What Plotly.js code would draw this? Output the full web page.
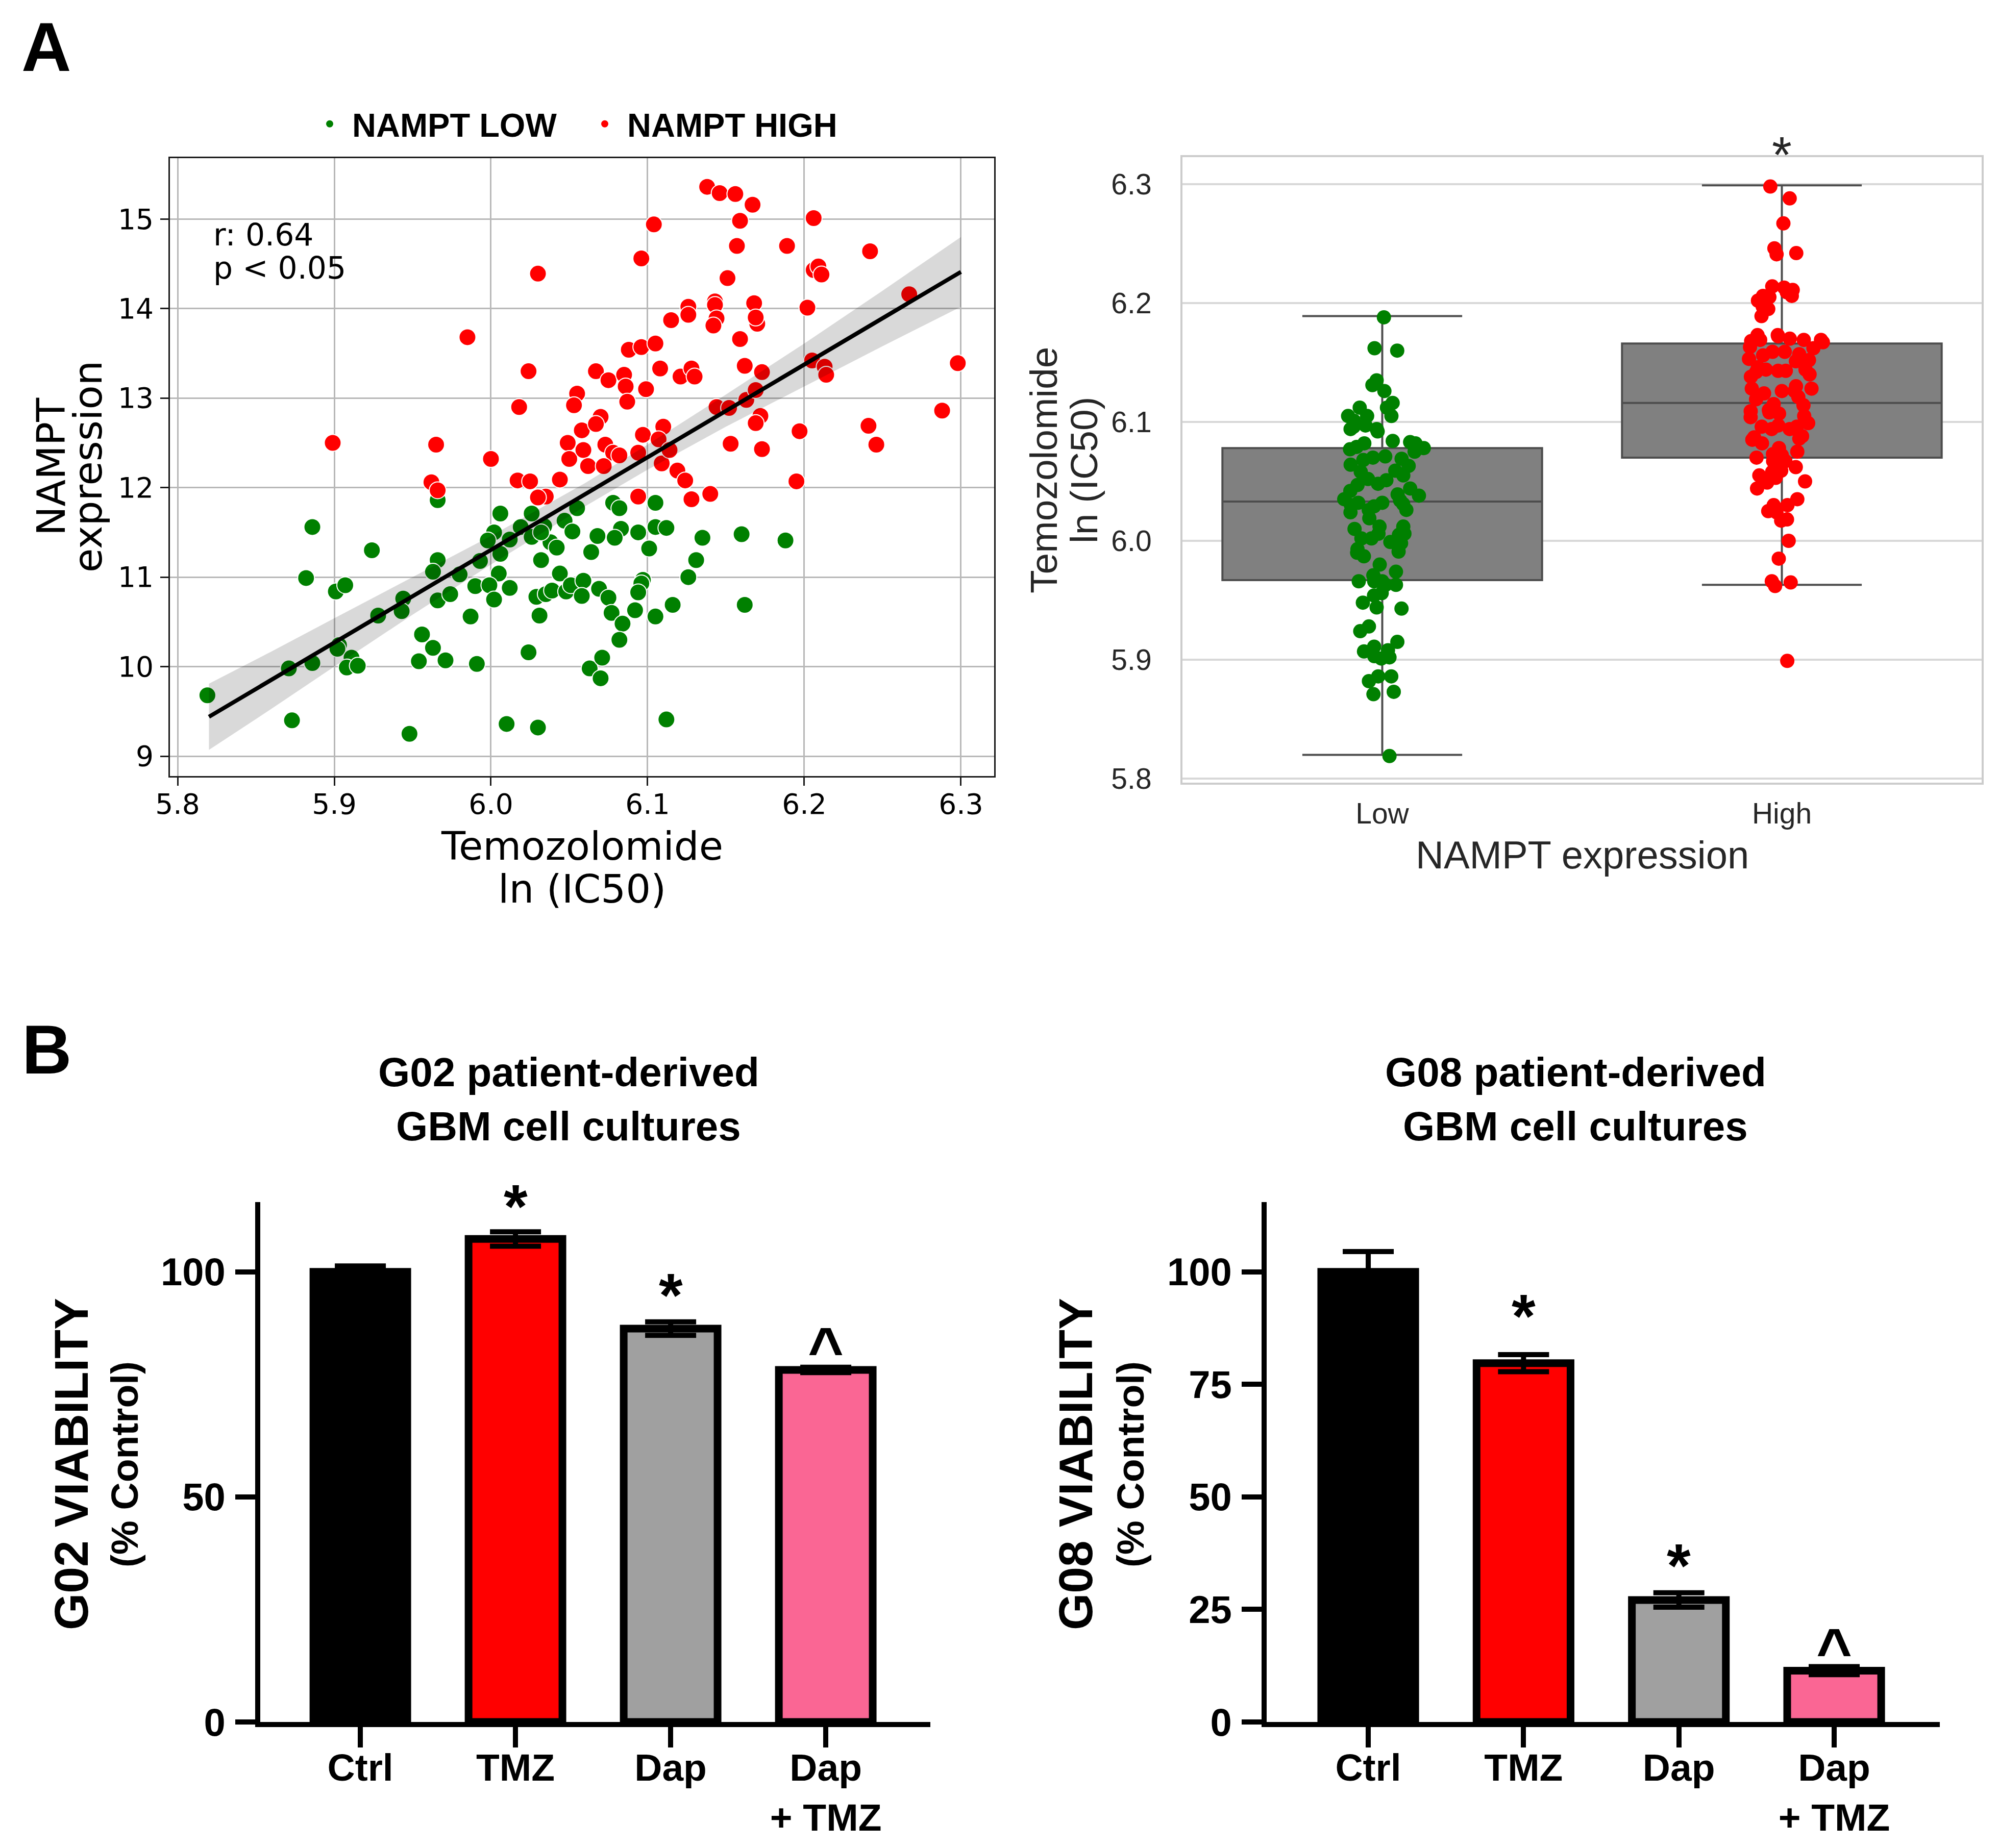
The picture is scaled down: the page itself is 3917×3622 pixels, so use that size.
<!DOCTYPE html>
<html><head><meta charset="utf-8">
<script src="https://cdn.plot.ly/plotly-3.0.1.min.js"></script>
<style>html,body{margin:0;padding:0;background:#fff;}#chart{width:3917px;height:3622px;}</style>
</head><body><div id="chart"></div>
<script>
// ---------- Panel A (scatter): NAMPT LOW (green) ----------
const lowX = [5.966,5.886,5.924,6.006,6.026,6.055,6.047,6.034,6.052,6.019,6.002,5.998,6.012,6.026,6.038,6.006,6.042,
  5.819,5.873,5.871,5.886,5.882,5.901,5.907,5.903,5.902,5.911,5.908,5.915,5.928,5.944,5.943,5.948,5.956,5.963,5.954,
  5.971,5.991,5.987,5.966,5.963,5.966,5.974,5.980,5.993,5.990,6.005,5.999,6.002,6.012,6.010,6.030,6.024,6.031,6.032,
  6.029,6.035,6.039,6.044,6.048,6.051,6.059,6.058,6.032,6.064,6.063,6.105,6.078,6.082,6.083,6.079,6.068,6.094,6.105,
  6.112,6.135,6.160,6.188,6.101,6.131,6.126,6.069,6.075,6.097,6.096,6.094,6.077,6.092,6.116,6.105,6.162,6.084,6.082,
  6.071,6.070,6.112];
const lowY = [11.86,11.56,11.30,11.71,11.71,11.77,11.63,11.57,11.51,11.56,11.50,11.41,11.42,11.45,11.39,11.26,11.33,
  9.68,9.40,9.98,10.04,10.99,10.84,10.91,10.24,10.20,10.10,9.99,10.01,10.57,10.76,10.62,9.25,10.36,10.21,10.06,
  10.07,10.03,10.56,11.19,11.06,10.74,10.81,11.03,11.18,10.90,11.04,10.91,10.75,10.88,9.36,9.32,10.16,10.57,11.19,
  10.78,10.81,10.85,11.04,10.84,10.91,10.96,10.79,11.50,11.28,9.98,11.83,11.83,11.77,11.54,11.44,11.46,11.50,11.56,
  11.55,11.44,11.48,11.41,11.32,11.19,11.00,10.87,10.77,10.97,10.93,10.83,10.60,10.63,10.69,10.56,10.69,10.48,10.30,
  10.10,9.87,9.41];
// ---------- Panel A (scatter): NAMPT HIGH (red) ----------
const highX = [6.030,5.985,6.024,6.055,6.053,6.018,5.899,5.965,6.049,6.050,6.000,5.962,5.966,6.017,6.025,6.044,6.035,6.030,
  6.058,6.059,6.062,6.138,6.146,6.156,6.167,6.206,6.104,6.159,6.157,6.189,6.242,6.096,6.206,6.209,6.211,6.151,6.267,
  6.126,6.126,6.143,6.143,6.168,6.202,6.115,6.144,6.142,6.170,6.169,6.159,6.088,6.096,6.105,6.067,6.075,6.085,6.086,
  6.099,6.087,6.108,6.121,6.128,6.130,6.162,6.173,6.205,6.213,6.214,6.298,6.070,6.067,6.097,6.110,6.107,6.073,6.078,
  6.082,6.094,6.072,6.109,6.114,6.119,6.124,6.128,6.140,6.094,6.144,6.152,6.163,6.169,6.172,6.169,6.153,6.173,6.197,
  6.195,6.241,6.246,6.288];
const highY = [14.39,13.68,13.30,13.05,12.92,12.90,12.50,12.48,12.50,12.32,12.32,12.06,11.97,12.08,12.07,12.09,11.90,11.89,
  12.64,12.42,12.24,15.36,15.29,15.28,15.16,15.01,14.94,14.98,14.70,14.70,14.64,14.56,14.43,14.47,14.38,14.34,14.16,
  14.02,13.93,14.08,14.04,14.06,14.01,13.87,13.89,13.81,13.83,13.90,13.66,13.54,13.57,13.61,13.30,13.20,13.26,13.13,
  13.10,12.96,13.33,13.24,13.33,13.24,13.36,13.29,13.42,13.35,13.26,13.39,12.79,12.71,12.59,12.68,12.54,12.48,12.39,
  12.36,12.39,12.24,12.27,12.42,12.19,12.08,11.87,11.93,11.90,12.90,12.89,12.98,13.09,12.80,12.72,12.49,12.43,12.63,
  12.07,12.69,12.48,12.86];
// regression line and its confidence band
const fitX = [5.82, 6.30];
const fitY = [9.44, 14.41];
const bandX = [5.82, 5.86, 5.90, 5.95, 6.00, 6.06, 6.10, 6.15, 6.20, 6.25, 6.30];
const bandUpper = [9.81, 10.17, 10.54, 11.00, 11.46, 12.05, 12.48, 13.04, 13.61, 14.20, 14.80];
const bandLower = [9.07, 9.53, 10.00, 10.58, 11.14, 11.79, 12.20, 12.68, 13.13, 13.58, 14.02];
const scatterXTicks = [5.8, 5.9, 6.0, 6.1, 6.2, 6.3];
const scatterXTickText = ['5.8', '5.9', '6.0', '6.1', '6.2', '6.3'];
const scatterYTicks = [9, 10, 11, 12, 13, 14, 15];

// ---------- Panel A (box plot) ----------
const groups = ['Low', 'High'];
const boxQ1 = [5.967, 6.070];
const boxMedian = [6.033, 6.116];
const boxQ3 = [6.078, 6.166];
const boxLowerFence = [5.820, 5.963];
const boxUpperFence = [6.189, 6.299];
const boxYTicks = [5.8, 5.9, 6.0, 6.1, 6.2, 6.3];
const boxYTickText = ['5.8', '5.9', '6.0', '6.1', '6.2', '6.3'];

// ---------- Panel B (bars) ----------
const treatments = ['Ctrl', 'TMZ', 'Dap', 'Dap + TMZ'];
const treatmentLabels = ['Ctrl', 'TMZ', 'Dap', 'Dap<br>+ TMZ'];
const g02Mean = [100, 107.3, 87.4, 78.2];
const g02Err = [1.3, 1.6, 1.5, 0.6];
const g08Mean = [100, 79.7, 27.1, 11.4];
const g08Err = [4.5, 1.9, 1.6, 0.9];
const barColors = ['#000000', '#ff0000', '#a0a0a0', '#fa6694'];
const g02Marks = [null, '*', '*', '^'];
const g08Marks = [null, '*', '*', '^'];
const g02MarkShift = [0, 50, 53, 36];
const g08MarkShift = [0, 76, 54, 32];

// ---------- layout helpers ----------
const W = 3917, H = 3622;
const px = v => v / W;
const py = v => 1 - v / H;
const DV = 'DejaVu Sans', LS = 'Liberation Sans, Arial, sans-serif';

const traces = [
  {type:'scatter', mode:'markers', name:'NAMPT LOW', x:lowX, y:lowY, xaxis:'x', yaxis:'y',
   marker:{color:'#008000', size:33, line:{color:'#ffffff', width:2}}},
  {type:'scatter', mode:'markers', name:'NAMPT HIGH', x:highX, y:highY, xaxis:'x', yaxis:'y',
   marker:{color:'#ff0000', size:33, line:{color:'#ffffff', width:2}}},
  {type:'scatter', mode:'lines', x:bandX.concat(bandX.slice().reverse()),
   y:bandUpper.concat(bandLower.slice().reverse()), fill:'toself', fillcolor:'rgba(0,0,0,0.15)',
   line:{width:0, color:'rgba(0,0,0,0)'}, xaxis:'x', yaxis:'y', showlegend:false, hoverinfo:'skip'},
  {type:'scatter', mode:'lines', x:fitX, y:fitY, line:{color:'#000000', width:8},
   xaxis:'x', yaxis:'y', showlegend:false},
  {type:'box', x:groups, q1:boxQ1, median:boxMedian, q3:boxQ3, lowerfence:boxLowerFence,
   upperfence:boxUpperFence, boxpoints:false, width:0.8, whiskerwidth:0.5,
   fillcolor:'#808080', line:{color:'#4d4d4d', width:4}, xaxis:'x2', yaxis:'y2', showlegend:false},
  {type:'box', name:'Low', y:lowX, boxpoints:'all', jitter:0.28, pointpos:0, width:0.8, whiskerwidth:0,
   fillcolor:'rgba(0,0,0,0)', line:{width:0, color:'rgba(0,0,0,0)'},
   marker:{color:'#008000', size:28}, xaxis:'x2', yaxis:'y2', showlegend:false},
  {type:'box', name:'High', y:highX, boxpoints:'all', jitter:0.28, pointpos:0, width:0.8, whiskerwidth:0,
   fillcolor:'rgba(0,0,0,0)', line:{width:0, color:'rgba(0,0,0,0)'},
   marker:{color:'#ff0000', size:28}, xaxis:'x2', yaxis:'y2', showlegend:false},
  {type:'bar', x:treatments, y:g02Mean, width:0.605, xaxis:'x3', yaxis:'y3', showlegend:false,
   marker:{color:barColors, line:{color:'#000000', width:15}},
   error_y:{type:'data', array:g02Err, visible:true, color:'#000000', thickness:10, width:50}},
  {type:'bar', x:treatments, y:g08Mean, width:0.605, xaxis:'x4', yaxis:'y4', showlegend:false,
   marker:{color:barColors, line:{color:'#000000', width:15}},
   error_y:{type:'data', array:g08Err, visible:true, color:'#000000', thickness:10, width:50}}
];

const scatterAxisCommon = {showgrid:true, gridcolor:'#b8b8b8', gridwidth:3, zeroline:false,
  showline:true, linecolor:'#1a1a1a', linewidth:3, mirror:true, ticks:'outside', ticklen:16,
  tickwidth:3, tickcolor:'#1a1a1a', tickfont:{family:DV, size:55, color:'#000000'}};
const boxAxisCommon = {zeroline:false, showline:true, linecolor:'#cccccc', linewidth:4, mirror:true,
  ticks:'', tickfont:{family:LS, size:57, color:'#262626'}};
const barXCommon = {type:'category', tickvals:treatments, ticktext:treatmentLabels, showgrid:false,
  zeroline:false, showline:true, linecolor:'#000000', linewidth:10, ticks:'outside', ticklen:40,
  tickwidth:10, tickcolor:'#000000', ticklabelstandoff:-25,
  tickfont:{family:LS, size:75, weight:700, color:'#000000'}};
const barYCommon = {range:[0, 115.5], showgrid:false, zeroline:false, showline:true,
  linecolor:'#000000', linewidth:10, ticks:'outside', ticklen:39, tickwidth:10, tickcolor:'#000000',
  ticklabelstandoff:4, tickfont:{family:LS, size:76, weight:700, color:'#000000'}};

function ann(text, x, y, font, extra) {
  return Object.assign({text:text, xref:'paper', yref:'paper', x:px(x), y:py(y), showarrow:false,
    xanchor:'center', yanchor:'middle', font:font}, extra || {});
}
const fA = {family:DV, size:77, color:'#000000'};
const fBox = {family:LS, size:75, color:'#262626'};
const fTitle = {family:LS, size:80, weight:700, color:'#000000'};
const fYT = {family:LS, size:93, weight:700, color:'#000000'};
const fYT2 = {family:LS, size:75, weight:700, color:'#000000'};

const annotations = [
  ann('A', 91, 92, {family:LS, size:135, weight:700, color:'#000000'}),
  ann('B', 92, 2057, {family:LS, size:135, weight:700, color:'#000000'}),
  ann('r: 0.64', 416, 460, {family:DV, size:60, color:'#000000'}, {xanchor:'left'}),
  ann('p &lt; 0.05', 416, 525, {family:DV, size:60, color:'#000000'}, {xanchor:'left'}),
  ann('NAMPT', 100, 915, fA, {textangle:-90}),
  ann('expression', 172, 915, fA, {textangle:-90}),
  ann('Temozolomide', 1140, 1659, fA),
  ann('ln (IC50)', 1140, 1742, fA),
  ann('Temozolomide', 2045, 921, fBox, {textangle:-90}),
  ann('ln (IC50)', 2124, 921, fBox, {textangle:-90}),
  ann('NAMPT expression', 3100, 1676, {family:LS, size:76, color:'#262626'}),
  {text:'*', xref:'x2', yref:'paper', x:'High', y:py(303), showarrow:false, xanchor:'center',
   yanchor:'middle', font:{family:LS, size:100, color:'#262626'}},
  ann('G02 patient-derived', 1114, 2101, fTitle),
  ann('GBM cell cultures', 1114, 2207, fTitle),
  ann('G08 patient-derived', 3087, 2101, fTitle),
  ann('GBM cell cultures', 3087, 2207, fTitle),
  ann('G02 VIABILITY', 140, 2870, fYT, {textangle:-90}),
  ann('(% Control)', 244, 2870, fYT2, {textangle:-90}),
  ann('G08 VIABILITY', 2108, 2870, fYT, {textangle:-90}),
  ann('(% Control)', 2215, 2870, fYT2, {textangle:-90})
];
treatments.forEach((t, i) => {
  if (g02Marks[i]) annotations.push({text:g02Marks[i], xref:'x3', yref:'y3', x:t, y:g02Mean[i] + g02Err[i],
    yshift:g02MarkShift[i], showarrow:false, xanchor:'center', yanchor:'middle',
    font:{family:LS, size:120, weight:700, color:'#000000'}});
  if (g08Marks[i]) annotations.push({text:g08Marks[i], xref:'x4', yref:'y4', x:t, y:g08Mean[i] + g08Err[i],
    yshift:g08MarkShift[i], showarrow:false, xanchor:'center', yanchor:'middle',
    font:{family:LS, size:120, weight:700, color:'#000000'}});
});

const layout = {
  width:W, height:H, margin:{l:0, r:0, t:0, b:0}, paper_bgcolor:'#ffffff', plot_bgcolor:'rgba(0,0,0,0)',
  boxmode:'overlay', bargap:0.2,
  legend:{orientation:'h', x:px(602), xanchor:'left', y:py(243), yanchor:'middle',
    font:{family:LS, size:65, weight:700, color:'#000000'}, bgcolor:'rgba(0,0,0,0)',
    itemwidth:78, entrywidth:446, entrywidthmode:'pixels'},
  xaxis:Object.assign({}, scatterAxisCommon, {domain:[px(333), px(1948)], anchor:'y',
    range:[5.7951, 6.3212], tickvals:scatterXTicks, ticktext:scatterXTickText, ticklabelstandoff:-11}),
  yaxis:Object.assign({}, scatterAxisCommon, {domain:[py(1521), py(310)], anchor:'x',
    range:[8.778, 15.68], tickvals:scatterYTicks, ticklabelstandoff:2}),
  xaxis2:Object.assign({}, boxAxisCommon, {domain:[px(2317), px(3883)], anchor:'y2', type:'category',
    categoryorder:'array', categoryarray:groups, range:[-0.5, 1.5], showgrid:false, ticklabelstandoff:8}),
  yaxis2:Object.assign({}, boxAxisCommon, {domain:[py(1534), py(308)], anchor:'x2',
    range:[5.7966, 6.3227], tickvals:boxYTicks, ticktext:boxYTickText, showgrid:true,
    gridcolor:'#d8d8d8', gridwidth:4, ticklabelstandoff:45}),
  xaxis3:Object.assign({}, barXCommon, {domain:[px(510), px(1823)], anchor:'y3', range:[-0.645, 3.674]}),
  yaxis3:Object.assign({}, barYCommon, {domain:[py(3375), py(2356)], anchor:'x3', tickvals:[0, 50, 100]}),
  xaxis4:Object.assign({}, barXCommon, {domain:[px(2482), px(3801)], anchor:'y4', range:[-0.654, 3.68]}),
  yaxis4:Object.assign({}, barYCommon, {domain:[py(3375), py(2356)], anchor:'x4', tickvals:[0, 25, 50, 75, 100]}),
  annotations:annotations
};

Plotly.newPlot('chart', traces, layout, {staticPlot:true, displayModeBar:false});
</script>
</body></html>
